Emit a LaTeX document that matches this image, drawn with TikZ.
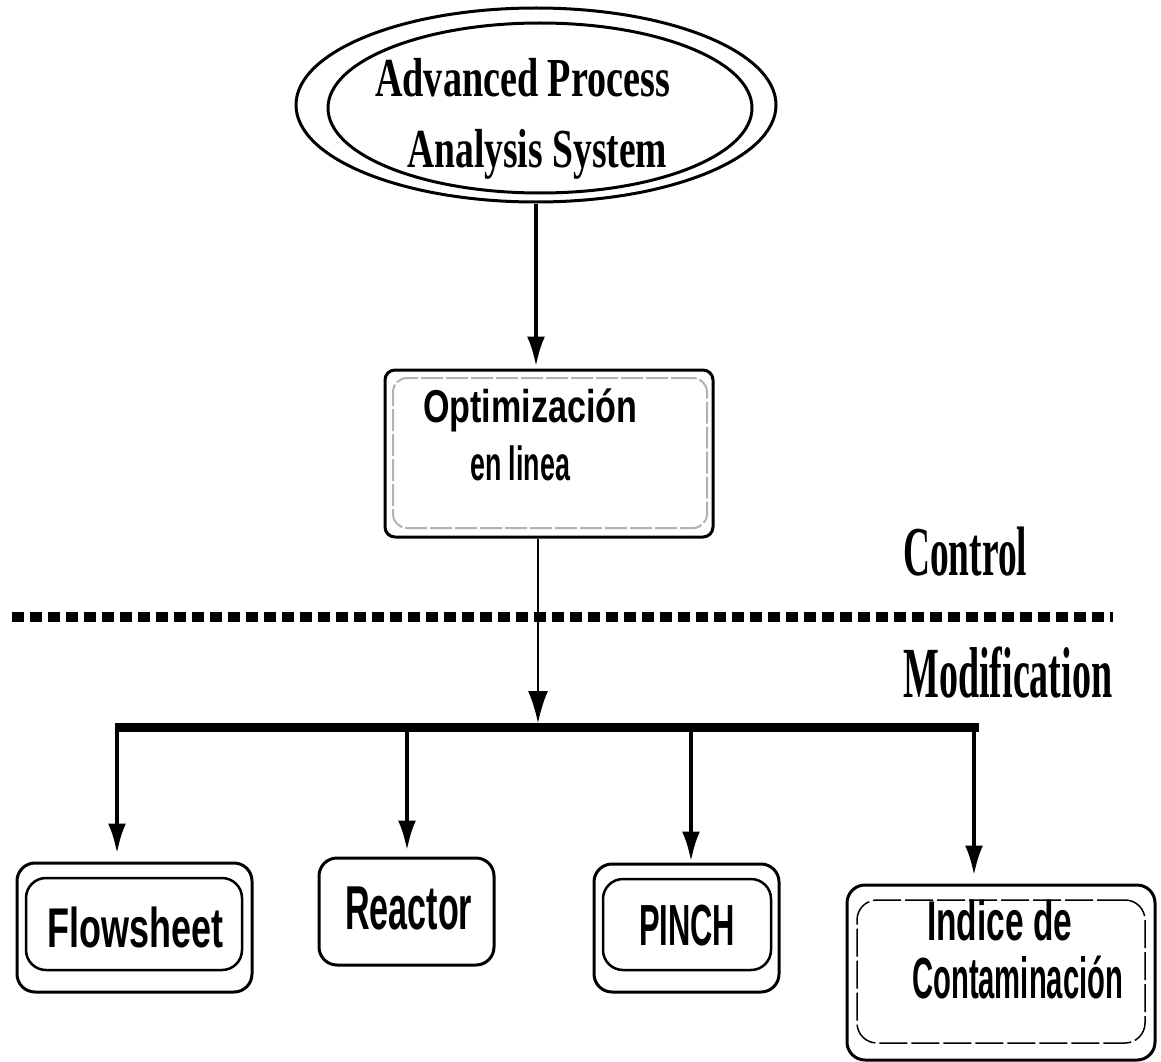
\documentclass[tikz,border=0pt]{standalone}
\usepackage{fontspec}
\usepackage{graphicx}
\usetikzlibrary{arrows.meta,shapes.geometric}
\newfontfamily\lsans{Liberation Sans}
\newfontfamily\lserif{Liberation Serif}
% text squeezed to a given width, keeping its natural height
\newcommand\fitw[3]{\resizebox{#1pt}{\height}{\fontsize{#2}{#2}\selectfont #3}}
\begin{document}
\begin{tikzpicture}[x=1pt,y=-1pt,
  lbl/.style={inner sep=0pt, anchor=base west},
  oval/.style={draw, ellipse, line width=3pt, inner sep=0pt},
  outerbox/.style={draw, rectangle, line width=3pt, rounded corners=18pt, inner sep=0pt},
  innerbox/.style={draw, rectangle, line width=2.5pt, rounded corners=20pt, inner sep=0pt},
  arr/.style={line width=4pt, -{Latex[length=30pt,width=18pt]}},
  thinarr/.style={line width=2pt, -{Latex[length=32pt,width=20pt]}},
  bus/.style={line width=9pt},
  sep/.style={line width=10pt, dash pattern=on 12pt off 6pt}]
\useasboundingbox (0,0) rectangle (1161,1062);

% top system
\node[oval, minimum width=480pt, minimum height=194pt] (aps) at (536,105) {};
\node[oval, minimum width=424pt, minimum height=170pt] (apsin) at (540,108) {};
\node[lbl] (aps1) at (375,97) {\fitw{295}{55}{\lserif\bfseries Advanced Process}};
\node[lbl] (aps2) at (407,167) {\fitw{260}{55}{\lserif\bfseries Analysis System}};

% on-line optimisation
\node[outerbox, rounded corners=10pt, minimum width=328pt, minimum height=167pt] (opt) at (549,453.5) {};
\node[draw=gray!60, line width=2pt, dash pattern=on 22pt off 3pt, rounded corners=14pt,
      inner sep=0pt, minimum width=314pt, minimum height=150pt] (optin) at (550,453) {};
\node[lbl] (opt1) at (423,422) {\fitw{214}{46}{\lsans\bfseries Optimizaci\'on}};
\node[lbl] (opt2) at (470,480) {\fitw{100}{48}{\lsans\bfseries en linea}};

% control / modification split
\coordinate (sepL) at (12,617);
\coordinate (sepR) at (1113,617);
\draw[sep] (sepL) -- (sepR);
\node[lbl] (ctl) at (903,575) {\fitw{124}{70}{\lserif\bfseries Control}};
\node[lbl] (mod) at (903,697) {\fitw{209}{72}{\lserif\bfseries Modification}};

% bottom tools
\node[outerbox, minimum width=235pt, minimum height=129pt] (flow) at (134.5,927.5) {};
\node[innerbox, minimum width=216pt, minimum height=92pt] (flowin) at (134,924) {};
\node[lbl] (flowt) at (47,947) {\fitw{176}{56}{\lsans\bfseries Flowsheet}};

\node[outerbox, minimum width=175pt, minimum height=107pt] (reac) at (406.5,911.5) {};
\node[lbl] (react) at (345,929) {\fitw{127}{62}{\lsans\bfseries Reactor}};

\node[outerbox, minimum width=185pt, minimum height=128pt] (pinch) at (686.5,928) {};
\node[innerbox, minimum width=168pt, minimum height=91pt] (pinchin) at (687,924.5) {};
\node[lbl] (pincht) at (639,945) {\fitw{96}{58}{\lsans\bfseries PINCH}};

\node[outerbox, minimum width=308pt, minimum height=175pt] (ind) at (1001,972.5) {};
\node[draw, line width=1.5pt, dash pattern=on 28pt off 4pt, rounded corners=20pt,
      inner sep=0pt, minimum width=288pt, minimum height=143pt] (indin) at (1001,971.5) {};
\node[lbl] (ind1) at (927,940) {\fitw{145}{56}{\lsans\bfseries Indice de}};
\node[lbl] (ind2) at (912,998) {\fitw{211}{58}{\lsans\bfseries Contaminaci\'on}};

% connectors
\draw[arr, shorten >=2pt] (aps.south) -- (aps.south |- opt.north);
\coordinate (hub) at (538,723);
\draw[thinarr] (opt.south -| hub) -- (hub);
\coordinate (busL) at (115,727.5);
\coordinate (busR) at (979,727.5);
\draw[bus] (busL) -- (busR);
\coordinate (d1) at (117,727);
\coordinate (d2) at (407,727);
\coordinate (d3) at (691,727);
\coordinate (d4) at (974,727);
\draw[arr, shorten >=8pt] (d1) -- (d1 |- flow.north);
\draw[arr, shorten >=6pt] (d2) -- (d2 |- reac.north);
\draw[arr, shorten >=1pt] (d3) -- (d3 |- pinch.north);
\draw[arr, shorten >=8pt] (d4) -- (d4 |- ind.north);
\end{tikzpicture}
\end{document}
